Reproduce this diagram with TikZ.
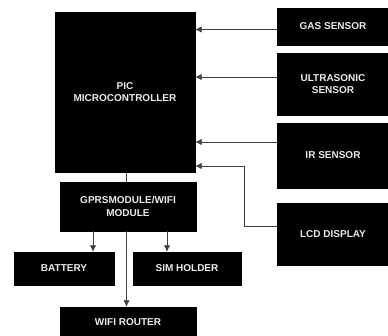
\documentclass[tikz,border=0pt]{standalone}
\usepackage{fontspec}
\setmainfont{Liberation Sans}
\usetikzlibrary{arrows.meta,positioning,calc}

\begin{document}
\begin{tikzpicture}[x=1pt,y=-1pt,>={Latex[length=6.5pt,width=6.5pt]},
  blk/.style={fill=black,draw=black,text=white!92!black,align=center,font=\fontsize{10}{12.5}\selectfont\bfseries,inner sep=2pt},
  link/.style={draw=black!75,line width=0.9pt}]
\useasboundingbox (0,0) rectangle (388,336);
% controller and sensors
\node[blk,minimum width=140pt,minimum height=160pt] (pic) at (125,92) {PIC\\MICROCONTROLLER};
\node[blk,minimum width=112pt,minimum height=37pt] (gas) at (333,26.5) {GAS SENSOR};
\node[blk,minimum width=112pt,minimum height=62pt] (us) at (333,84) {ULTRASONIC\\SENSOR};
\node[blk,minimum width=112pt,minimum height=65pt] (ir) at (333,155.5) {IR SENSOR};
\node[blk,minimum width=112pt,minimum height=62pt] (lcd) at (333,234) {LCD DISPLAY};
% communication part
\node[blk,minimum width=136pt,minimum height=49pt] (gprs) at (128,206.5) {GPRSMODULE/WIFI\\MODULE};
\node[blk,minimum width=100pt,minimum height=33pt] (bat) at (64,268.5) {BATTERY};
\node[blk,minimum width=108pt,minimum height=33pt] (sim) at (187,268.5) {SIM HOLDER};
\node[blk,minimum width=136pt,minimum height=30pt] (wifi) at (128,322) {WIFI ROUTER};
% inputs into the controller
\coordinate (gasout) at ([yshift=-3pt]gas.west);
\coordinate (usout) at ([yshift=7pt]us.west);
\coordinate (irout) at ([yshift=13.5pt]ir.west);
\coordinate (lcdout) at ([yshift=8pt]lcd.west);
\coordinate (lcdin) at ([yshift=-74pt]pic.east);
\draw[link,->] (gasout) -- (gasout -| pic.east);
\draw[link,->] (usout) -- (usout -| pic.east);
\draw[link,->] (irout) -- (irout -| pic.east);
\draw[link,->] (lcdout) -- ++(-32,0) |- (lcdin);
% outputs of the module
\coordinate (picdown) at ([xshift=1pt]pic.south);
\coordinate (gbat) at ([xshift=-35pt]gprs.south);
\coordinate (gsim) at ([xshift=39pt]gprs.south);
\coordinate (gwifi) at ([xshift=-1.5pt]gprs.south);
\draw[link] (picdown) -- (picdown |- gprs.north);
\draw[link,->] (gbat) -- (gbat |- bat.north);
\draw[link,->] (gsim) -- (gsim |- sim.north);
\draw[link,->] (gwifi) -- (gwifi |- wifi.north);
\end{tikzpicture}
\end{document}
